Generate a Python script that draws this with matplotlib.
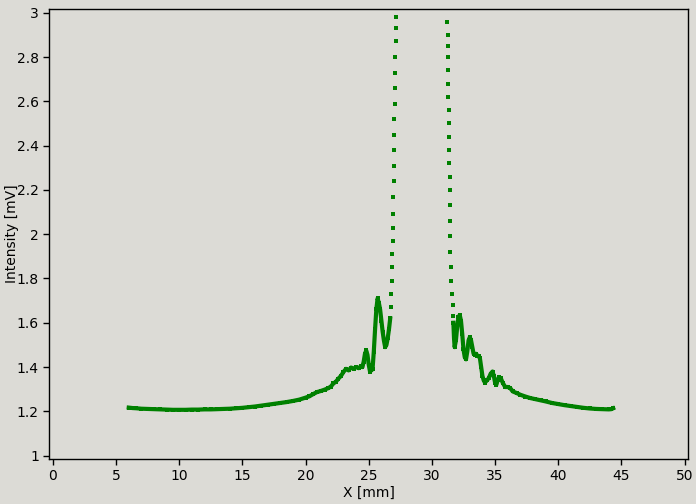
import matplotlib
matplotlib.use('Agg')
import matplotlib.pyplot as plt
from matplotlib.ticker import MultipleLocator, FormatStrFormatter

# left side, dense band
left_x = [6.0, 6.3, 6.6, 7.0, 7.5, 8.0, 8.5, 9.0, 9.5, 10.0, 10.5, 11.0, 11.5, 12.0,
          12.5, 13.0, 13.5, 14.0, 14.5, 15.0, 15.5, 16.0, 16.5, 17.0, 17.5, 18.0, 18.5,
          19.0, 19.5, 20.0, 20.3, 20.6, 20.9, 21.2, 21.5, 21.8, 22.0, 22.2, 22.4, 22.6,
          22.8, 23.0, 23.2, 23.4, 23.6, 23.8, 24.0, 24.2, 24.4, 24.5, 24.6, 24.7, 24.8,
          24.9, 25.0, 25.1, 25.2, 25.3, 25.4, 25.5, 25.6, 25.7, 25.8, 25.9, 26.0, 26.1,
          26.2, 26.3, 26.4, 26.5, 26.6, 26.7]
left_y = [1.217, 1.215, 1.214, 1.212, 1.211, 1.210, 1.209, 1.208, 1.207, 1.207, 1.207,
          1.208, 1.208, 1.209, 1.209, 1.210, 1.211, 1.212, 1.214, 1.216, 1.219, 1.222,
          1.226, 1.230, 1.234, 1.238, 1.242, 1.247, 1.253, 1.262, 1.268, 1.278, 1.287,
          1.292, 1.298, 1.305, 1.312, 1.326, 1.334, 1.348, 1.360, 1.378, 1.392, 1.385,
          1.398, 1.393, 1.400, 1.395, 1.405, 1.400, 1.425, 1.460, 1.475, 1.455, 1.410,
          1.380, 1.385, 1.39, 1.47, 1.57, 1.66, 1.71, 1.69, 1.66, 1.61, 1.56, 1.52, 1.49,
          1.50, 1.53, 1.57, 1.62]

# left side, steep rise (separate dots)
left_tail_x = [26.74, 26.78, 26.82, 26.85, 26.88, 26.90, 26.92, 26.93, 26.95, 26.96,
               26.98, 26.99, 27.01, 27.02, 27.04, 27.06, 27.08, 27.10, 27.12, 27.14, 27.16]
left_tail_y = [1.67, 1.73, 1.79, 1.85, 1.91, 1.97, 2.03, 2.09, 2.17, 2.24, 2.31, 2.38,
               2.45, 2.52, 2.59, 2.66, 2.73, 2.80, 2.87, 2.93, 2.98]

# right side, steep fall (separate dots)
right_tail_x = [31.22, 31.24, 31.25, 31.27, 31.28, 31.30, 31.31, 31.33, 31.34, 31.36,
                31.37, 31.39, 31.41, 31.43, 31.435, 31.44, 31.45, 31.46, 31.50, 31.55,
                31.60, 31.64, 31.68]
right_tail_y = [2.96, 2.90, 2.85, 2.80, 2.74, 2.68, 2.62, 2.56, 2.50, 2.44, 2.38, 2.32,
                2.26, 2.20, 2.13, 2.06, 1.99, 1.92, 1.85, 1.79, 1.73, 1.68, 1.63]

# right side, dense band
right_x = [31.7, 31.75, 31.8, 31.9, 32.0, 32.1, 32.2, 32.3, 32.4, 32.5, 32.6, 32.7, 32.8,
           32.9, 33.0, 33.1, 33.2, 33.3, 33.4, 33.5, 33.6, 33.7, 33.8, 33.9, 34.0, 34.1,
           34.2, 34.35, 34.5, 34.65, 34.8, 34.9, 35.0, 35.1, 35.2, 35.3, 35.45, 35.6,
           35.8, 36.0, 36.2, 36.4, 36.7, 37.0, 37.4, 37.8, 38.2, 38.6, 39.0, 39.5, 40.0,
           40.5, 41.0, 41.5, 42.0, 42.5, 43.0, 43.5, 44.0, 44.2, 44.35]
right_y = [1.60, 1.53, 1.49, 1.52, 1.58, 1.625, 1.635, 1.61, 1.55, 1.48, 1.445, 1.435,
           1.47, 1.52, 1.535, 1.52, 1.49, 1.46, 1.455, 1.46, 1.45, 1.45, 1.44, 1.40, 1.36,
           1.34, 1.33, 1.34, 1.35, 1.37, 1.38, 1.36, 1.33, 1.32, 1.34, 1.355, 1.35, 1.33,
           1.31, 1.31, 1.305, 1.29, 1.283, 1.275, 1.267, 1.26, 1.255, 1.25, 1.245, 1.238,
           1.233, 1.228, 1.224, 1.220, 1.216, 1.213, 1.211, 1.210, 1.209, 1.210, 1.214]

bg = '#dcdbd6'
col = '#008000'

fig = plt.figure(figsize=(6.96, 5.04), dpi=100, facecolor=bg)
ax = fig.add_axes([0.0708, 0.0893, 0.9182, 0.8934])
ax.set_facecolor(bg)

ax.plot(left_x, left_y, '-s', color=col, lw=3.0, ms=3, mew=0)
ax.plot(right_x, right_y, '-s', color=col, lw=3.0, ms=3, mew=0)
ax.plot(left_tail_x, left_tail_y, 's', color=col, ms=2.4, mew=0)
ax.plot(right_tail_x, right_tail_y, 's', color=col, ms=2.4, mew=0)

ax.set_xlim(-0.29, 50.3)
ax.set_ylim(0.985, 3.018)
ax.xaxis.set_major_locator(MultipleLocator(5))
ax.yaxis.set_major_locator(MultipleLocator(0.2))
ax.yaxis.set_major_formatter(FormatStrFormatter('%g'))
ax.tick_params(direction='out', length=4, width=1, labelsize=10, colors='black')

for s in ax.spines.values():
    s.set_linewidth(1)
    s.set_color('black')

ax.set_xlabel('X [mm]', fontsize=10, labelpad=2)
ax.set_ylabel('Intensity [mV]', fontsize=10)
ax.yaxis.set_label_coords(-0.047, 0.5)

fig.savefig('out.png', dpi=100, facecolor=bg)
